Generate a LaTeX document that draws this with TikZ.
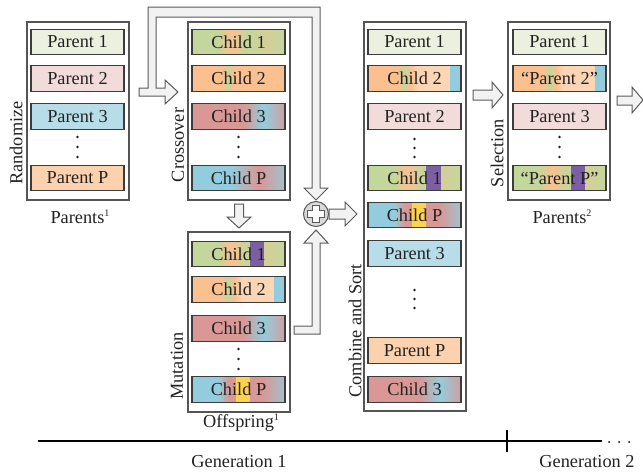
\documentclass[tikz,border=0pt]{standalone}
\usepackage{fontspec}
\setmainfont{Liberation Serif}
\usetikzlibrary{calc}

% palette
\definecolor{pOne}{HTML}{EBF1DE}
\definecolor{pTwo}{HTML}{F2DCDB}
\definecolor{pThree}{HTML}{B7DEE8}
\definecolor{pP}{HTML}{FBD1AE}
\definecolor{cGreen}{HTML}{C3D69B}
\definecolor{cOrange}{HTML}{FAC090}
\definecolor{cPeach}{HTML}{FCD5B5}
\definecolor{cRed}{HTML}{D99795}
\definecolor{cBlue}{HTML}{93CDDD}
\definecolor{cPurple}{HTML}{7C5FA3}
\definecolor{cYellow}{HTML}{FDD250}
\colorlet{cTan}{cGreen!70!cOrange}
\colorlet{cRedEnd}{cRed!85!cBlue}
\colorlet{cBlueEnd}{cBlue!78!cRed}
\definecolor{txt}{HTML}{222222}
\definecolor{cellline}{HTML}{3C3C3C}
\definecolor{panelline}{HTML}{555555}
\definecolor{arrowfill}{HTML}{F2F2F2}
\definecolor{arrowline}{HTML}{5A5A5A}
\definecolor{plusfill}{HTML}{D9D9D9}

% small raised index used in the panel captions
\newcommand{\genidx}[1]{\raisebox{7pt}{\fontsize{10}{10}\selectfont #1}}

% gene mixtures across a chromosome (box spans 25bp..75bp)
\pgfdeclarehorizontalshading{geneOne}{100bp}{color(0bp)=(cGreen); color(25bp)=(cGreen); color(39bp)=(cGreen); color(46bp)=(cOrange); color(55bp)=(cGreen); color(66bp)=(cTan); color(75bp)=(cGreen); color(100bp)=(cGreen)}
\pgfdeclarehorizontalshading{geneTwo}{100bp}{color(0bp)=(cOrange); color(25bp)=(cOrange); color(41.5bp)=(cOrange); color(44.5bp)=(cGreen); color(47.5bp)=(cOrange); color(75bp)=(cOrange); color(100bp)=(cOrange)}
\pgfdeclarehorizontalshading{geneTwoM}{100bp}{color(0bp)=(cOrange); color(25bp)=(cOrange); color(41.5bp)=(cOrange); color(44.5bp)=(cGreen); color(48bp)=(cOrange); color(52bp)=(cPeach); color(75bp)=(cPeach); color(100bp)=(cPeach)}
\pgfdeclarehorizontalshading{geneThree}{100bp}{color(0bp)=(cRed); color(25bp)=(cRed); color(52.5bp)=(cRed); color(63.5bp)=(cBlue); color(75bp)=(cRedEnd); color(100bp)=(cRedEnd)}
\pgfdeclarehorizontalshading{geneP}{100bp}{color(0bp)=(cBlue); color(25bp)=(cBlue); color(46bp)=(cBlue); color(61bp)=(cRed); color(75bp)=(cBlueEnd); color(100bp)=(cBlueEnd)}
\pgfdeclarehorizontalshading{genePM}{100bp}{color(0bp)=(cBlue); color(25bp)=(cBlue); color(39bp)=(cBlue); color(45bp)=(cRed); color(61bp)=(cRed); color(63bp)=(cRed); color(75bp)=(cBlueEnd); color(100bp)=(cBlueEnd)}

\begin{document}
\begin{tikzpicture}[x=1pt,y=-1pt,
  font=\rmfamily\fontsize{18.3}{22}\selectfont,
  every node/.style={text=txt},
  panel/.style={draw=panelline, line width=1.1pt, fill=white, inner sep=0pt,
    minimum width=102pt},
  cell/.style={draw=cellline, line width=1.2pt, inner sep=0pt,
    minimum width=93pt, minimum height=25.5pt},
  mutblock/.style n args={3}{path picture={\fill[#1]
    ($(path picture bounding box.south west)!#2!(path picture bounding box.south east)$)
    rectangle
    ($(path picture bounding box.north west)!#3!(path picture bounding box.north east)$);}},
  blockarrow/.style={fill=arrowfill, draw=arrowline, line width=1pt, line join=miter},
  vdots/.style={fill=txt},
  axis/.style={line width=1.1pt, draw=black}
]
\useasboundingbox (0,0) rectangle (643,474);

% ---- panels ----
\node[panel, minimum height=178pt] (parA) at (78,111) {};
\node[panel, minimum height=178pt] (xover) at (239,111) {};
\node[panel, minimum height=180pt] (mut) at (239,322) {};
\node[panel, minimum height=389pt] (comb) at (415,216.5) {};
\node[panel, minimum height=178pt] (sel) at (559,111) {};

% ---- initial parents ----
\node[cell, fill=pOne]   (a1) at (77.5,42)    {Parent 1};
\node[cell, fill=pTwo]   (a2) at (77.5,78.5)  {Parent 2};
\node[cell, fill=pThree] (a3) at (77.5,116.5) {Parent 3};
\node[cell, fill=pP]     (aP) at (77.5,178)   {Parent P};
\foreach \yy in {137,147,157} \fill[vdots] (77.5,\yy) circle (1.3);

% ---- crossover ----
\node[cell, shading=geneOne]   (x1) at (238.5,42)    {Child 1};
\node[cell, shading=geneTwo]   (x2) at (238.5,78.5)  {Child 2};
\node[cell, shading=geneThree] (x3) at (238.5,116.5) {Child 3};
\node[cell, shading=geneP]     (xP) at (238.5,178)   {Child P};
\foreach \yy in {137,147,157} \fill[vdots] (238.5,\yy) circle (1.3);

% ---- mutation ----
\node[cell, shading=geneOne, mutblock={cPurple}{0.62}{0.77}]  (m1) at (238.5,254)   {Child 1};
\node[cell, shading=geneTwoM, mutblock={cBlue}{0.885}{1}]     (m2) at (238.5,289.5) {Child 2};
\node[cell, shading=geneThree]                                 (m3) at (238.5,328.5) {Child 3};
\node[cell, shading=genePM, mutblock={cYellow}{0.47}{0.62}]   (mP) at (238.5,389.5) {Child P};
\foreach \yy in {349,359,369} \fill[vdots] (238.5,\yy) circle (1.3);

% ---- combined and sorted ----
\node[cell, fill=pOne]                                          (s1) at (414.5,42)    {Parent 1};
\node[cell, shading=geneTwoM, mutblock={cBlue}{0.885}{1}]      (s2) at (414.5,78.5)  {Child 2};
\node[cell, fill=pTwo]                                          (s3) at (414.5,116.5) {Parent 2};
\node[cell, shading=geneOne, mutblock={cPurple}{0.62}{0.78}]   (s4) at (414.5,178)   {Child 1};
\node[cell, shading=genePM, mutblock={cYellow}{0.47}{0.62}]    (s5) at (414.5,215)   {Child P};
\node[cell, fill=pThree]                                        (s6) at (414.5,253.5) {Parent 3};
\node[cell, fill=pP]                                            (s7) at (414.5,350.5) {Parent P};
\node[cell, shading=geneThree]                                  (s8) at (414.5,389.5) {Child 3};
\foreach \yy in {139,148,157} \fill[vdots] (414.5,\yy) circle (1.3);
\foreach \yy in {290,299,308} \fill[vdots] (414.5,\yy) circle (1.3);

% ---- selected parents ----
\node[cell, fill=pOne]                                          (n1) at (559.5,42)    {Parent 1};
\node[cell, shading=geneTwoM, mutblock={cBlue}{0.885}{1}]      (n2) at (559.5,78.5)  {“Parent 2”};
\node[cell, fill=pTwo]                                          (n3) at (559.5,116.5) {Parent 3};
\node[cell, shading=geneOne, mutblock={cPurple}{0.62}{0.77}]   (nP) at (559.5,178)   {“Parent P”};
\foreach \yy in {137,147,157} \fill[vdots] (559.5,\yy) circle (1.3);

% ---- panel captions ----
\node[rotate=90] (lRand) at (16,143)  {Randomize};
\node[rotate=90] (lXo)   at (178,145) {Crossover};
\node[rotate=90] (lMut)  at (177,366) {Mutation};
\node[rotate=90] (lComb) at (355,331) {Combine and Sort};
\node[rotate=90] (lSel)  at (497,153) {Selection};
\node (lParA) at (80,217)  {Parents\genidx{1}};
\node (lOff)  at (241,423) {Offspring\genidx{1}};
\node (lParB) at (562,217) {Parents\genidx{2}};

% ---- merge symbol ----
\node[circle, fill=plusfill, draw=arrowline, line width=1pt, minimum size=25pt, inner sep=0pt] (sum) at (316,214) {};
\draw[fill=white, draw=arrowline, line width=0.9pt, shift={(sum.center)}]
  (-3.2,-8.5) -- (3.2,-8.5) -- (3.2,-3.2) -- (8.5,-3.2) -- (8.5,3.2) -- (3.2,3.2)
  -- (3.2,8.5) -- (-3.2,8.5) -- (-3.2,3.2) -- (-8.5,3.2) -- (-8.5,-3.2) -- (-3.2,-3.2) -- cycle;

% ---- block arrows ----
% parents into crossover, with the branch that carries the parents over to the merge
\draw[blockarrow] (139,96) -- (165,96) -- (165,104) -- (178,92) -- (165,80) -- (165,88)
  -- (156,88) -- (156,17) -- (312,17) -- (312,188) -- (304,188) -- (316,200)
  -- (328,188) -- (320,188) -- (320,7) -- (148,7) -- (148,88) -- (139,88) -- cycle;
% crossover down to mutation
\draw[blockarrow] (234.5,204) -- (243.5,204) -- (243.5,217) -- (251,217) -- (239,228)
  -- (227,217) -- (234.5,217) -- cycle;
% offspring up to the merge
\draw[blockarrow] (294,326) -- (312,326) -- (312,243) -- (304,243) -- (316,230)
  -- (328,243) -- (320,243) -- (320,334) -- (294,334) -- cycle;
% merge into combine and sort
\draw[blockarrow] (329,209) -- (345,209) -- (345,202) -- (357,214) -- (345,226)
  -- (345,219) -- (329,219) -- cycle;
% combine and sort into selection
\draw[blockarrow] (473,90) -- (492,90) -- (492,82) -- (503,95) -- (492,108)
  -- (492,100) -- (473,100) -- cycle;
% selection onward
\draw[blockarrow] (617,96) -- (632,96) -- (632,87) -- (643,100) -- (632,113)
  -- (632,105) -- (617,105) -- cycle;

% ---- generation axis ----
\coordinate (axL) at (38,441);
\coordinate (axR) at (602,441);
\coordinate (tkT) at (507,430);
\coordinate (tkB) at (507,452);
\draw[axis] (axL) -- (axR);
\draw[axis] (tkT) -- (tkB);
\foreach \xx in {609,619,629} \fill[black] (\xx,442) circle (1);
\node (g1) at (239,462) {Generation 1};
\node (g2) at (587,462) {Generation 2};
\end{tikzpicture}
\end{document}
